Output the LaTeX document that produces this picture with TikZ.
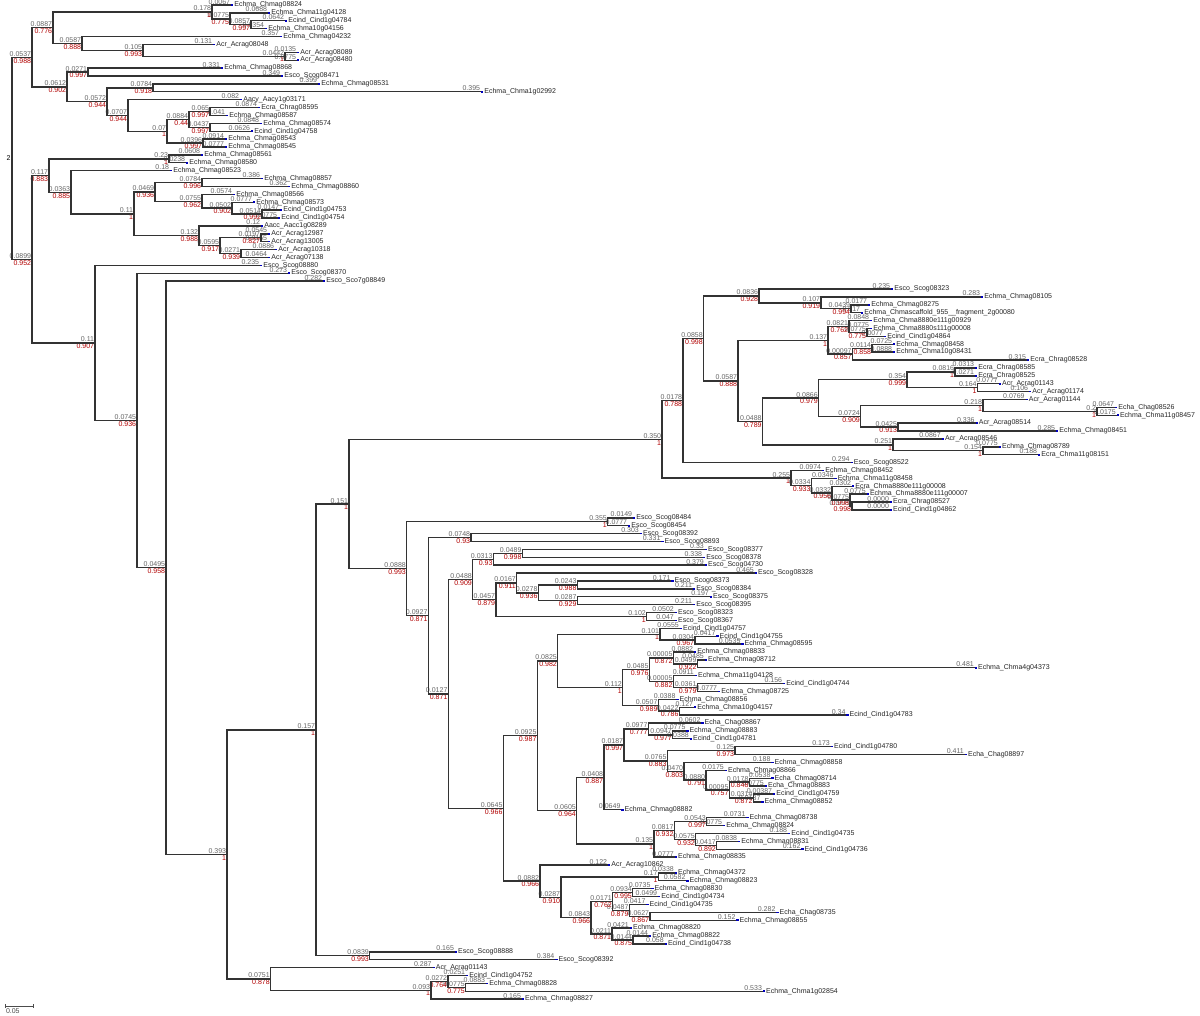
\documentclass[tikz,border=0pt]{standalone}
\usepackage{fontspec}
\setmainfont{Liberation Sans}
\usetikzlibrary{calc}
\newcommand\tf{\fontsize{3.5}{3.5}\selectfont}
\tikzset{
 br/.style={draw=black!80, line width=0.7pt},
 lname/.style={anchor=west, inner sep=0pt, xshift=1.5pt, font=\tf, text=black!85},
 blab/.style={anchor=south east, inner sep=0.25pt, font=\tf, text=black!60},
 rlab/.style={anchor=north east, inner sep=0.25pt, font=\tf, text=red!70!black},
 tipmark/.style={fill=blue!75!black},
}
\newcommand\Lf[4]{\coordinate (L#1) at (#2,{5+7.89*#1});
 \fill[tipmark] ([yshift=-0.4pt]L#1) rectangle ++(1.2pt,0.8pt);
 \node[lname] at (L#1) {#4};
 \node[blab] at (L#1) {#3};}
\newcommand\Nd[6]{\path let \p1=($(#3)!.5!(#4)$) in ({#2*0.5pt},\y1) coordinate (#1);
 \draw[br] (#1) |- (#3);
 \draw[br] (#1) |- (#4);
 \node[blab] at (#1) {#5};
 \node[rlab] at (#1) {#6};}
\begin{document}
\begin{tikzpicture}[x=0.5pt,y=-0.5pt]
\fill[white] (0,0) rectangle (1200,1016);
\useasboundingbox (0,0) rectangle (1200,1016);
% ---------------- leaves ----------------
\Lf{0}{231}{0.0067}{Echma\_Chmag08824}
\Lf{1}{268}{0.0688}{Echma\_Chma11g04128}
\Lf{2}{285}{0.0642}{Ecind\_Cind1g04784}
\Lf{3}{265}{0.0354}{Echma\_Chma10g04156}
\Lf{4}{280}{0.357}{Echma\_Chmag04232}
\Lf{5}{213}{0.131}{Acr\_Acrag08048}
\Lf{6}{297}{0.0135}{Acr\_Acrag08089}
\Lf{7}{297}{0.0775}{Acr\_Acrag08480}
\Lf{8}{221}{0.331}{Echma\_Chmag08868}
\Lf{9}{281}{0.349}{Esco\_Scog08471}
\Lf{10}{318}{0.399}{Echma\_Chmag08531}
\Lf{11}{481}{0.395}{Echma\_Chma1g02992}
\Lf{12}{240}{0.082}{Aacy\_Aacy1g03171}
\Lf{13}{258}{0.0874}{Ecra\_Chrag08595}
\Lf{14}{226}{0.041}{Echma\_Chmag08587}
\Lf{15}{260}{0.0848}{Echma\_Chmag08574}
\Lf{16}{251}{0.0626}{Ecind\_Cind1g04758}
\Lf{17}{225}{0.0914}{Echma\_Chmag08543}
\Lf{18}{225}{0.0777}{Echma\_Chmag08545}
\Lf{19}{201}{0.0608}{Echma\_Chmag08561}
\Lf{20}{186}{0.0238}{Echma\_Chmag08580}
\Lf{21}{170}{0.18}{Echma\_Chmag08523}
\Lf{22}{261}{0.386}{Echma\_Chmag08857}
\Lf{23}{288}{0.362}{Echma\_Chmag08860}
\Lf{24}{233}{0.0574}{Echma\_Chmag08566}
\Lf{25}{253}{0.0777}{Echma\_Chmag08573}
\Lf{26}{280}{0.0147}{Ecind\_Cind1g04753}
\Lf{27}{278}{0.0775}{Ecind\_Cind1g04754}
\Lf{28}{261}{0.12}{Aacc\_Aacc1g08289}
\Lf{29}{268}{0.0545}{Acr\_Acrag12987}
\Lf{30}{268}{0.0155}{Acr\_Acrag13005}
\Lf{31}{275}{0.0886}{Acr\_Acrag10318}
\Lf{32}{268}{0.0464}{Acr\_Acrag07138}
\Lf{33}{260}{0.235}{Esco\_Scog08880}
\Lf{34}{288}{0.273}{Esco\_Scog08370}
\Lf{35}{323}{0.282}{Esco\_Sco7g08849}
\Lf{36}{891}{0.235}{Esco\_Scog08323}
\Lf{37}{981}{0.283}{Echma\_Chmag08105}
\Lf{38}{868}{0.0177}{Echma\_Chmag08275}
\Lf{39}{861}{0.017}{Echma\_Chmascaffold\_955\_\_fragment\_2g00080}
\Lf{40}{870}{0.0848}{Echma\_Chma8880e111g00929}
\Lf{41}{870}{0.0775}{Echma\_Chma8880s111g00008}
\Lf{42}{884}{0.0077}{Ecind\_Cind1g04864}
\Lf{43}{893}{0.0725}{Echma\_Chmag08458}
\Lf{44}{893}{0.0888}{Echma\_Chma10g08431}
\Lf{45}{1027}{0.315}{Ecra\_Chrag08528}
\Lf{46}{975}{0.0313}{Ecra\_Chrag08585}
\Lf{47}{975}{0.0271}{Ecra\_Chrag08525}
\Lf{48}{998.7}{0.0777}{Acr\_Acrag01143}
\Lf{49}{1029}{0.106}{Acr\_Acrag01174}
\Lf{50}{1025.5}{0.0769}{Acr\_Acrag01144}
\Lf{51}{1115}{0.0647}{Echa\_Chag08526}
\Lf{52}{1116.6}{0.0175}{Echma\_Chma11g08457}
\Lf{53}{975.5}{0.336}{Acr\_Acrag08514}
\Lf{54}{1056}{0.285}{Echma\_Chmag08451}
\Lf{55}{941.6}{0.0867}{Acr\_Acrag08546}
\Lf{56}{998.7}{0.0775}{Echma\_Chmag08789}
\Lf{57}{1038}{0.188}{Ecra\_Chma11g08151}
\Lf{58}{850.5}{0.294}{Esco\_Scog08522}
\Lf{59}{822}{0.0974}{Echma\_Chmag08452}
\Lf{60}{834.4}{0.0346}{Echma\_Chma11g08458}
\Lf{61}{852}{0.0302}{Ecra\_Chma8880e111g00008}
\Lf{62}{866.6}{0.0775}{Echma\_Chma8880e111g00007}
\Lf{63}{889.8}{0.0000}{Ecra\_Chrag08527}
\Lf{64}{889.8}{0.0000}{Ecind\_Cind1g04862}
\Lf{65}{633}{0.0149}{Esco\_Scog08484}
\Lf{66}{628}{0.0777}{Esco\_Scog08454}
\Lf{67}{639.7}{0.303}{Esco\_Scog08392}
\Lf{68}{661.3}{0.331}{Esco\_Scog08893}
\Lf{69}{704.7}{0.33}{Esco\_Scog08377}
\Lf{70}{703}{0.338}{Esco\_Scog08378}
\Lf{71}{704.7}{0.379}{Esco\_Scog04730}
\Lf{72}{754.7}{0.465}{Esco\_Scog08328}
\Lf{73}{671.3}{0.171}{Esco\_Scog08373}
\Lf{74}{693}{0.211}{Esco\_Scog08384}
\Lf{75}{709.7}{0.197}{Esco\_Scog08375}
\Lf{76}{693}{0.211}{Esco\_Scog08395}
\Lf{77}{674.7}{0.0502}{Esco\_Scog08323}
\Lf{78}{674.7}{0.047}{Esco\_Scog08367}
\Lf{79}{679.7}{0.0555}{Ecind\_Cind1g04757}
\Lf{80}{716.3}{0.0417}{Ecind\_Cind1g04755}
\Lf{81}{741.3}{0.0535}{Echma\_Chmag08595}
\Lf{82}{694}{0.0882}{Echma\_Chmag08833}
\Lf{83}{704.7}{0.0485}{Echma\_Chmag08712}
\Lf{84}{974.7}{0.481}{Echma\_Chma4g04373}
\Lf{85}{694.7}{0.0911}{Echma\_Chma11g04128}
\Lf{86}{783}{0.156}{Ecind\_Cind1g04744}
\Lf{87}{718}{0.0777}{Echma\_Chmag08725}
\Lf{88}{676.3}{0.0388}{Echma\_Chmag08856}
\Lf{89}{694}{0.127}{Echma\_Chma10g04157}
\Lf{90}{846.3}{0.34}{Ecind\_Cind1g04783}
\Lf{91}{701.3}{0.0602}{Echa\_Chag08867}
\Lf{92}{686.3}{0.0775}{Echma\_Chmag08883}
\Lf{93}{689.7}{0.0388}{Ecind\_Cind1g04781}
\Lf{94}{830.7}{0.173}{Ecind\_Cind1g04780}
\Lf{95}{964.7}{0.411}{Echa\_Chag08897}
\Lf{96}{771.3}{0.188}{Echma\_Chmag08858}
\Lf{97}{724.7}{0.0175}{Echma\_Chmag08866}
\Lf{98}{771.3}{0.0538}{Echa\_Chmag08714}
\Lf{99}{764.7}{0.0775}{Echa\_Chmag08883}
\Lf{100}{773}{0.00387}{Ecind\_Cind1g04759}
\Lf{101}{761.3}{0.0187}{Echma\_Chmag08852}
\Lf{102}{621.3}{0.0649}{Echma\_Chmag08882}
\Lf{103}{746.3}{0.0731}{Echma\_Chmag08738}
\Lf{104}{723}{0.0775}{Echma\_Chmag08824}
\Lf{105}{788}{0.188}{Ecind\_Cind1g04735}
\Lf{106}{738}{0.0838}{Echma\_Chmag08831}
\Lf{107}{801.3}{0.162}{Ecind\_Cind1g04736}
\Lf{108}{674.7}{0.0777}{Echma\_Chmag08835}
\Lf{109}{608}{0.122}{Acr\_Acrag10862}
\Lf{110}{674.7}{0.0338}{Echma\_Chmag04372}
\Lf{111}{686.3}{0.0582}{Echma\_Chmag08823}
\Lf{112}{651.3}{0.0735}{Echma\_Chmag08830}
\Lf{113}{658}{0.0499}{Ecind\_Cind1g04734}
\Lf{114}{646.3}{0.0417}{Ecind\_Cind1g04735}
\Lf{115}{776.3}{0.282}{Echa\_Chag08735}
\Lf{116}{736.3}{0.152}{Echma\_Chmag08855}
\Lf{117}{629.7}{0.0421}{Echma\_Chmag08820}
\Lf{118}{649}{0.0144}{Echma\_Chmag08822}
\Lf{119}{664.6}{0.058}{Ecind\_Cind1g04738}
\Lf{120}{454.8}{0.165}{Esco\_Scog08888}
\Lf{121}{555.2}{0.384}{Esco\_Scog08392}
\Lf{122}{432.5}{0.287}{Acr\_Acrag01143}
\Lf{123}{466}{0.0251}{Ecind\_Cind1g04752}
\Lf{124}{486}{0.0883}{Echma\_Chmag08828}
\Lf{125}{762.8}{0.533}{Echma\_Chma1g02854}
\Lf{126}{521.8}{0.165}{Echma\_Chmag08827}
% ---------------- upper clade ----------------
\Nd{A1111}{251}{L2}{L3}{0.0857}{0.997}
\Nd{A111}{230}{L1}{A1111}{0.0775}{0.775}
\Nd{A11}{212}{L0}{A111}{0.178}{1}
\Nd{A1211}{285}{L6}{L7}{0.0442}{1}
\Nd{A121}{143}{L5}{A1211}{0.105}{0.993}
\Nd{A12}{82}{L4}{A121}{0.0587}{0.888}
\Nd{A1}{53}{A11}{A12}{0.0887}{0.776}
\Nd{A21}{88}{L8}{L9}{0.0271}{0.997}
\Nd{A221}{153}{L10}{L11}{0.0784}{0.918}
\Nd{n13a}{210}{L13}{L14}{0.065}{0.997}
\Nd{n15a}{210}{L15}{L16}{0.0437}{0.997}
\Nd{A22211}{189}{n13a}{n15a}{0.0884}{0.44}
\Nd{A22212}{203}{L17}{L18}{0.0396}{0.997}
\Nd{A2221}{167}{A22211}{A22212}{0.07}{1}
\Nd{A222}{128}{L12}{A2221}{0.0707}{0.944}
\Nd{A22}{107}{A221}{A222}{0.0572}{0.944}
\Nd{A2}{67}{A21}{A22}{0.0612}{0.902}
\Nd{A}{32}{A1}{A2}{0.0537}{0.988}
\Nd{B11}{169}{L19}{L20}{0.23}{1}
\Nd{B12111}{202}{L22}{L23}{0.0784}{0.996}
\Nd{N262}{262}{L26}{L27}{0.0514}{0.992}
\Nd{N232}{232}{L25}{N262}{0.0502}{0.902}
\Nd{B12112}{202}{L24}{N232}{0.0755}{0.962}
\Nd{B1211}{155}{B12111}{B12112}{0.0469}{0.936}
\Nd{n29}{261}{L29}{L30}{0.0197}{0.827}
\Nd{n31}{241}{L31}{L32}{0.0271}{0.939}
\Nd{B12121}{220}{n29}{n31}{0.0595}{0.917}
\Nd{B1212}{199}{L28}{B12121}{0.132}{0.988}
\Nd{B121}{134}{B1211}{B1212}{0.11}{1}
\Nd{B12}{71}{L21}{B121}{0.0363}{0.885}
\Nd{B1}{49}{B11}{B12}{0.117}{0.883}
% ---------------- lower clade ----------------
\Nd{E111111}{851}{L38}{L39}{0.0439}{0.994}
\Nd{E11111}{821}{L37}{E111111}{0.107}{0.919}
\Nd{E1111}{759}{L36}{E11111}{0.0836}{0.928}
\Nd{E1112111}{867}{L41}{L42}{0.0775}{0.775}
\Nd{E111211}{849}{L40}{E1112111}{0.0821}{0.762}
\Nd{E1112121}{872}{L43}{L44}{0.0114}{0.858}
\Nd{E111212}{852.5}{E1112121}{L45}{0.00097}{0.857}
\Nd{E11121}{828}{E111211}{E111212}{0.137}{1}
\Nd{n46}{955}{L46}{L47}{0.0816}{1}
\Nd{n48}{977.5}{L48}{L49}{0.164}{1}
\Nd{E1112211}{907}{n46}{n48}{0.354}{0.999}
\Nd{n51}{1097}{L51}{L52}{0.2}{1}
\Nd{n50}{982.9}{L50}{n51}{0.218}{1}
\Nd{n53}{897.9}{L53}{L54}{0.0425}{0.913}
\Nd{E1112212}{860.7}{n50}{n53}{0.0724}{0.909}
\Nd{E111221}{818.6}{E1112211}{E1112212}{0.0866}{0.979}
\Nd{n56}{982.9}{L56}{L57}{0.154}{1}
\Nd{E111222}{893}{L55}{n56}{0.251}{1}
\Nd{E11122}{762.5}{E111221}{E111222}{0.0488}{0.789}
\Nd{E1112}{738}{E11121}{E11122}{0.0587}{0.888}
\Nd{E111}{703.6}{E1111}{E1112}{0.0858}{0.998}
\Nd{E11}{683}{E111}{L58}{0.0178}{0.788}
\Nd{E121111}{852}{L63}{L64}{0.0775}{0.998}
\Nd{E12111}{850}{L62}{E121111}{0.0775}{0.998}
\Nd{E1211}{832}{L61}{E12111}{0.0332}{0.956}
\Nd{E121}{811.4}{L60}{E1211}{0.0334}{0.933}
\Nd{E12}{791}{L59}{E121}{0.255}{1}
\Nd{E1}{662}{E11}{E12}{0.350}{1}
\Nd{E21}{607.7}{L65}{L66}{0.355}{1}
\Nd{E221}{471}{L67}{L68}{0.0748}{0.93}
\Nd{n69}{522.3}{L69}{L70}{0.0489}{0.998}
\Nd{E22211}{493.3}{n69}{L71}{0.0313}{0.93}
\Nd{n73}{577.3}{L73}{L74}{0.0243}{0.988}
\Nd{n75}{577.3}{L75}{L76}{0.0287}{0.929}
\Nd{n73p}{538.3}{n73}{n75}{0.0278}{0.936}
\Nd{n72}{516.7}{L72}{n73p}{0.0167}{0.911}
\Nd{n77}{646.7}{L77}{L78}{0.102}{1}
\Nd{E22212}{496}{n72}{n77}{0.0457}{0.879}
\Nd{E2221}{472.7}{E22211}{E22212}{0.0488}{0.909}
\Nd{n80}{695}{L80}{L81}{0.0304}{0.967}
\Nd{Na1}{660}{L79}{n80}{0.101}{1}
\Nd{n83}{697.3}{L83}{L84}{0.0499}{0.922}
\Nd{Na211}{673.3}{L82}{n83}{0.00005}{0.872}
\Nd{n86}{697.3}{L86}{L87}{0.0361}{0.979}
\Nd{Na212}{673.3}{L85}{n86}{0.00005}{0.882}
\Nd{Na21}{649.3}{Na211}{Na212}{0.0485}{0.976}
\Nd{n89}{679.3}{L89}{L90}{0.0422}{0.786}
\Nd{Na22}{658.3}{L88}{n89}{0.0507}{0.989}
\Nd{Na2}{622.7}{Na21}{Na22}{0.112}{1}
\Nd{Na}{557.7}{Na1}{Na2}{0.0825}{0.982}
\Nd{n92}{672.7}{L92}{L93}{0.0947}{0.977}
\Nd{Nb111}{648.3}{L91}{n92}{0.0977}{0.777}
\Nd{n94}{735}{L94}{L95}{0.125}{0.973}
\Nd{n98}{749.3}{L98}{L99}{0.0178}{0.848}
\Nd{n100}{753.3}{L100}{L101}{0.0314}{0.872}
\Nd{n98p}{729.3}{n98}{n100}{0.00095}{0.757}
\Nd{n97}{706}{L97}{n98p}{0.0880}{0.791}
\Nd{n96}{684}{L96}{n97}{0.0470}{0.803}
\Nd{Nb112}{667.3}{n94}{n96}{0.0765}{0.883}
\Nd{Nb11}{624}{Nb111}{Nb112}{0.0187}{0.997}
\Nd{Nb1}{604}{Nb11}{L102}{0.0408}{0.887}
\Nd{n103}{706.7}{L103}{L104}{0.0543}{0.997}
\Nd{n106}{716.7}{L106}{L107}{0.0417}{0.892}
\Nd{n105p}{695.7}{L105}{n106}{0.0575}{0.932}
\Nd{n103p}{674.3}{n103}{n105p}{0.0817}{0.932}
\Nd{Nb2}{654}{n103p}{L108}{0.135}{1}
\Nd{Nb}{576.7}{Nb1}{Nb2}{0.0605}{0.964}
\Nd{E22221}{537.3}{Na}{Nb}{0.0925}{0.987}
\Nd{n110}{658.3}{L110}{L111}{0.17}{1}
\Nd{n112}{632.7}{L112}{L113}{0.0934}{0.995}
\Nd{n115}{650}{L115}{L116}{0.0627}{0.867}
\Nd{n114p}{629.3}{L114}{n115}{0.0487}{0.879}
\Nd{G21}{612.7}{n112}{n114p}{0.0171}{0.762}
\Nd{R2}{633}{L118}{L119}{0.0144}{0.875}
\Nd{Q}{612}{L117}{R2}{0.0211}{0.871}
\Nd{G2}{591}{G21}{Q}{0.0843}{0.966}
\Nd{G}{561}{n110}{G2}{0.0287}{0.910}
\Nd{E22222}{540}{L109}{G}{0.0882}{0.966}
\Nd{E2222}{503.3}{E22221}{E22222}{0.0645}{0.966}
\Nd{E222}{448.3}{E2221}{E2222}{0.0127}{0.871}
\Nd{E22}{428.3}{E221}{E222}{0.0927}{0.871}
\Nd{E2}{406.7}{E21}{E22}{0.0888}{0.993}
\Nd{E}{349}{E1}{E2}{0.151}{1}
\Nd{F}{369.7}{L120}{L121}{0.0839}{0.993}
\Nd{C}{316}{E}{F}{0.157}{1}
\Nd{D111}{465.7}{L124}{L125}{0.0775}{0.775}
\Nd{D11}{448}{L123}{D111}{0.0272}{0.764}
\Nd{D1}{431}{D11}{L126}{0.093}{1}
\Nd{D}{270.6}{L122}{D1}{0.0751}{0.878}
\Nd{B2111}{227}{C}{D}{0.393}{1}
\Nd{B211}{166}{L35}{B2111}{0.0495}{0.958}
\Nd{B21}{137}{L34}{B211}{0.0745}{0.936}
\Nd{B2}{95}{L33}{B21}{0.11}{0.907}
\Nd{B}{32}{B1}{B2}{0.0899}{0.952}
\Nd{R}{12}{A}{B}{}{}
\node[font=\tf, anchor=east, inner sep=0.5pt] (rootlab) at (R) {2};
% ---------------- scale bar ----------------
\coordinate (sb1) at (5,1006);
\coordinate (sb2) at (33,1006);
\draw[black!70, line width=0.4pt] (sb1) -- (sb2);
\draw[black!70, line width=0.4pt] ([yshift=-0.8pt]sb1) -- ([yshift=0.8pt]sb1);
\draw[black!70, line width=0.4pt] ([yshift=-0.8pt]sb2) -- ([yshift=0.8pt]sb2);
\node[font=\tf, text=black!70, anchor=north west, inner sep=0.3pt] (sblab) at ([yshift=-1pt]sb1) {0.05};
\end{tikzpicture}
\end{document}
